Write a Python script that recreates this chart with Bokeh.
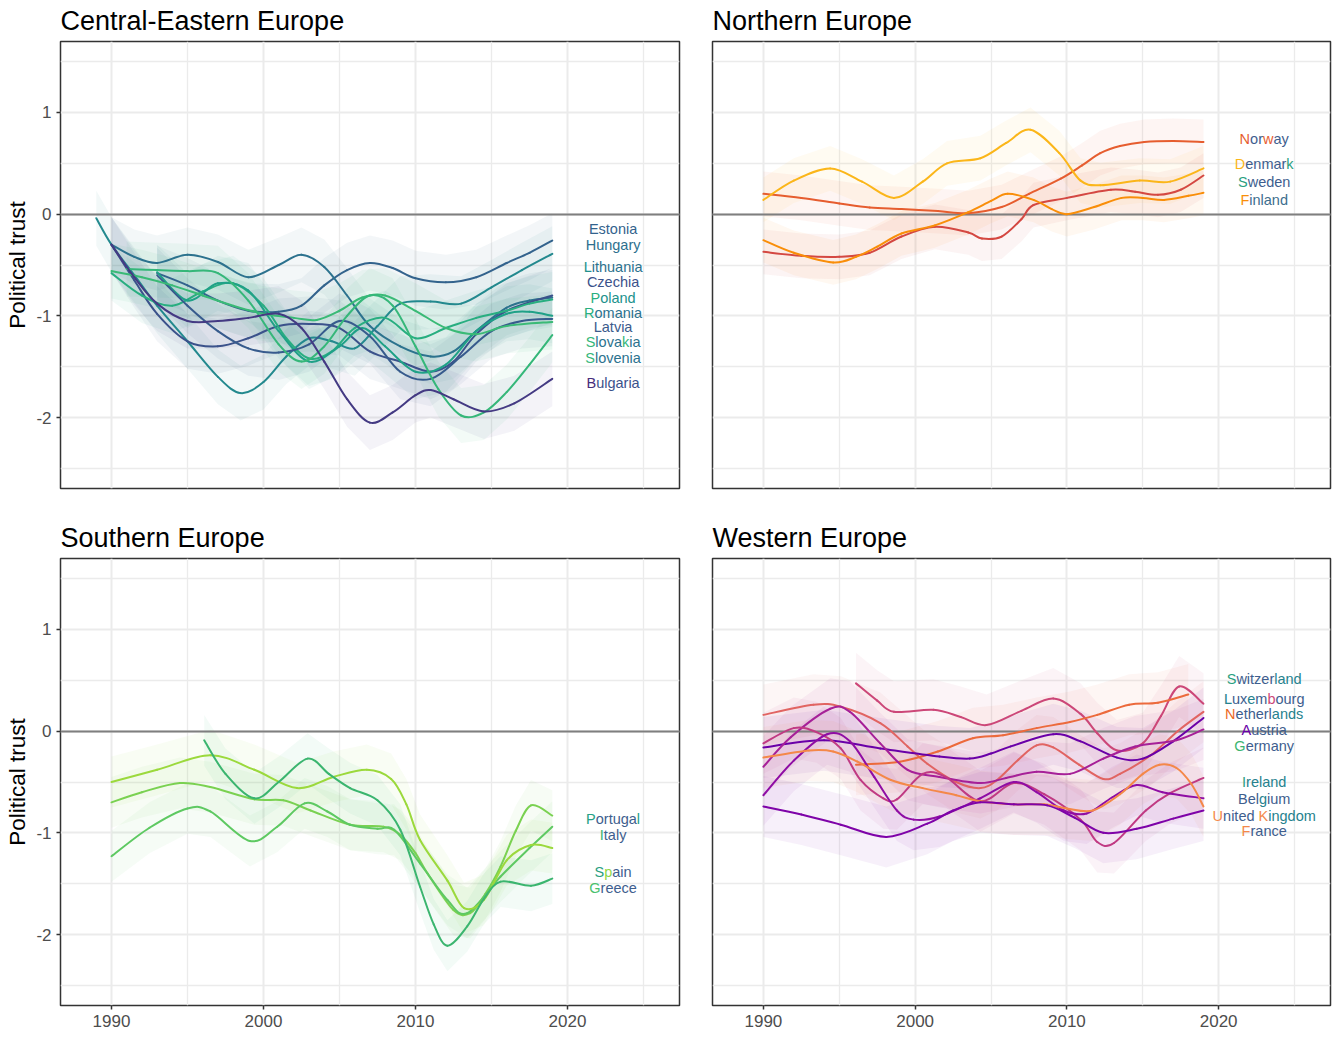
import numpy as np
from bokeh.plotting import figure
from bokeh.layouts import row, column
from bokeh.models import FixedTicker, ColumnDataSource
from bokeh.core.properties import value
from bokeh.embed import file_html
from bokeh.resources import INLINE

# ---------------- data ----------------
YEAR_TICKS = [1990, 2000, 2010, 2020]
YEAR_MINOR = [1995, 2005, 2015, 2025]
TRUST_TICKS = [-2, -1, 0, 1]
TRUST_MINOR = [-2.5, -1.5, -0.5, 0.5, 1.5]
TRUST_LABELS = ["-2", "-1", "0", "1"]

# Central-Eastern Europe
EST_YR = [1993, 1995, 1997, 1999, 2001, 2002.5, 2004, 2005.5, 2007, 2008.5, 2010, 2012, 2014, 2016, 2017.5, 2019]
EST_V = [-0.58, -0.70, -0.85, -0.95, -0.96, -0.90, -0.70, -0.55, -0.48, -0.53, -0.63, -0.67, -0.62, -0.48, -0.38, -0.26]
HUN_YR = [1989, 1990, 1991.5, 1993, 1995, 1997, 1998.5, 2000, 2001.5, 2003, 2004.5, 2006, 2007.5, 2009, 2011, 2013, 2015, 2017, 2019]
HUN_V = [-0.04, -0.30, -0.60, -0.90, -1.25, -1.60, -1.76, -1.65, -1.40, -1.22, -1.25, -1.32, -1.10, -0.88, -0.86, -0.88, -0.72, -0.55, -0.39]
LTU_YR = [1990, 1991.5, 1993, 1995, 1997, 1999, 2001, 2002.5, 2004, 2005.5, 2007, 2009, 2011, 2012.5, 2014, 2016, 2017.5, 2019]
LTU_V = [-0.30, -0.42, -0.48, -0.40, -0.47, -0.62, -0.50, -0.40, -0.52, -0.80, -1.10, -1.30, -1.40, -1.35, -1.15, -0.92, -0.85, -0.82]
CZE_YR = [1990, 1991.5, 1993, 1995, 1997, 1999, 2001, 2003, 2005, 2007, 2009, 2011, 2012.5, 2014, 2016, 2019]
CZE_V = [-0.30, -0.65, -0.98, -1.25, -1.30, -1.22, -1.10, -1.08, -1.12, -1.35, -1.45, -1.55, -1.45, -1.18, -0.95, -0.80]
POL_YR = [1990, 1992, 1994, 1996, 1998, 2000, 2001.5, 2003, 2004.5, 2006, 2008, 2010, 2012, 2014, 2016, 2017.5, 2019]
POL_V = [-0.58, -0.80, -0.90, -0.76, -0.68, -0.90, -1.22, -1.42, -1.35, -1.12, -1.02, -1.22, -1.12, -1.02, -0.95, -0.88, -0.84]
ROU_YR = [1993, 1995, 1997, 1999, 2001, 2003, 2005, 2006.5, 2008, 2010, 2012, 2014, 2016, 2017.5, 2019]
ROU_V = [-0.57, -0.85, -0.68, -0.75, -1.15, -1.45, -1.30, -1.12, -1.30, -1.55, -1.48, -1.15, -0.98, -0.96, -1.00]
LVA_YR = [1993, 1995, 1997, 1999, 2001, 2003, 2005, 2007, 2009, 2011, 2013, 2015, 2017, 2019]
LVA_V = [-0.60, -0.90, -1.15, -1.32, -1.36, -1.28, -1.05, -1.20, -1.55, -1.62, -1.40, -1.15, -1.05, -1.03]
SVK_YR = [1990, 1992, 1994, 1996, 1998, 2000, 2002, 2003.5, 2005, 2006.5, 2008, 2010, 2012, 2014, 2016, 2019]
SVK_V = [-0.56, -0.62, -0.70, -0.80, -0.90, -0.98, -1.02, -1.04, -0.95, -0.82, -0.80, -0.95, -1.12, -1.18, -1.10, -1.06]
SVN_YR = [1991, 1993, 1995, 1997, 1999, 2001, 2002.5, 2004, 2005.5, 2007, 2008.5, 2010, 2011.5, 2013, 2014.5, 2016, 2017.5, 2019]
SVN_V = [-0.54, -0.55, -0.56, -0.58, -0.85, -1.28, -1.45, -1.30, -1.00, -0.80, -0.90, -1.30, -1.72, -1.98, -1.95, -1.75, -1.48, -1.19]
BGR_YR = [1990, 1991.5, 1993, 1995, 1997, 1999, 2001, 2002.5, 2004, 2005.5, 2007, 2008.5, 2010, 2011, 2012.5, 2014.5, 2016.5, 2019]
BGR_V = [-0.30, -0.62, -0.88, -1.05, -1.05, -1.02, -0.98, -1.12, -1.45, -1.82, -2.05, -1.95, -1.78, -1.73, -1.82, -1.94, -1.86, -1.62]

# Northern Europe
NOR_YR = [1990, 1992.5, 1995, 1997, 1999.1, 2001.5, 2003.5, 2005.7, 2007.5, 2009.6, 2011, 2012.2, 2013.5, 2015.1, 2017, 2019]
NOR_V = [0.20, 0.16, 0.105, 0.065, 0.05, 0.03, 0.01, 0.07, 0.20, 0.35, 0.48, 0.60, 0.67, 0.71, 0.72, 0.71]
DNK_YR = [1990, 1992, 1994.4, 1996.5, 1998.6, 2000.5, 2002.1, 2004.3, 2006, 2007.6, 2009.5, 2010.9, 2012.2, 2014.8, 2016.8, 2019]
DNK_V = [0.14, 0.33, 0.45, 0.32, 0.16, 0.32, 0.50, 0.55, 0.70, 0.83, 0.60, 0.33, 0.285, 0.33, 0.32, 0.45]
SWE_YR = [1990, 1992.5, 1995, 1997, 1999.1, 2001.3, 2003.5, 2004.4, 2005.7, 2007, 2007.8, 2010, 2012.9, 2014.5, 2016, 2017.5, 2019]
SWE_V = [-0.37, -0.41, -0.42, -0.38, -0.22, -0.125, -0.18, -0.24, -0.22, -0.05, 0.09, 0.16, 0.24, 0.22, 0.19, 0.24, 0.38]
FIN_YR = [1990, 1992, 1994.6, 1996.1, 1997.5, 1999.1, 2001.3, 2003.5, 2005, 2006.1, 2007.8, 2009, 2010, 2011.8, 2013.6, 2015, 2016.4, 2018, 2019]
FIN_V = [-0.256, -0.38, -0.475, -0.42, -0.32, -0.19, -0.11, 0.02, 0.13, 0.20, 0.14, 0.05, 0.0, 0.07, 0.16, 0.16, 0.14, 0.18, 0.21]

# Southern Europe
PRT_YR = [1990, 1992, 1994.5, 1996.5, 1999.4, 2001.3, 2003.1, 2005.7, 2007.9, 2009, 2010, 2010.8, 2012.5, 2013.6, 2014.6, 2015.6, 2016.6, 2017.6, 2019]
PRT_V = [-0.70, -0.60, -0.51, -0.55, -0.67, -0.68, -0.78, -0.92, -0.94, -1.02, -1.20, -1.40, -1.76, -1.79, -1.60, -1.33, -0.98, -0.73, -0.83]
ITA_YR = [1990, 1992.5, 1995, 1996.5, 1999.1, 2000.9, 2002.7, 2004.2, 2005.7, 2007.5, 2008.6, 2010.3, 2012.1, 2013.4, 2015.6, 2017.5, 2019]
ITA_V = [-1.23, -0.95, -0.76, -0.79, -1.08, -0.94, -0.71, -0.79, -0.92, -0.96, -0.97, -1.30, -1.66, -1.79, -1.43, -1.15, -0.94]
ESP_YR = [1990, 1993, 1996.5, 1999.4, 2002.2, 2004.6, 2006.8, 2008.4, 2009.4, 2010.3, 2012.1, 2013.2, 2014.5, 2016.0, 2017.6, 2019]
ESP_V = [-0.50, -0.38, -0.236, -0.38, -0.56, -0.45, -0.38, -0.47, -0.72, -1.07, -1.47, -1.74, -1.66, -1.27, -1.12, -1.15]
GRC_YR = [1996.1, 1997.5, 1999.4, 2001, 2002.9, 2004.3, 2005.7, 2007.5, 2009.0, 2010.3, 2011.2, 2012.1, 2013.4, 2014.5, 2015.6, 2017.6, 2019]
GRC_V = [-0.09, -0.42, -0.66, -0.50, -0.27, -0.42, -0.56, -0.68, -0.97, -1.53, -1.90, -2.11, -1.92, -1.65, -1.48, -1.52, -1.45]

# Western Europe
CHE_YR = [1996.1, 1997.5, 1998.6, 2001.2, 2003, 2004.7, 2007, 2009.1, 2010.9, 2012, 2013.3, 2015.0, 2016.2, 2017.4, 2019]
CHE_V = [0.47, 0.30, 0.19, 0.21, 0.14, 0.06, 0.20, 0.32, 0.17, -0.02, -0.19, -0.12, 0.15, 0.44, 0.27]
LUX_YR = [1990, 1993.3, 1995.1, 1997.7, 1999.5, 2000.8, 2002.7, 2004.3, 2005.4, 2006.8, 2008, 2009.1, 2010.8, 2012.4, 2013.5, 2015.5, 2017.3, 2019]
LUX_V = [0.16, 0.26, 0.24, 0.08, -0.15, -0.32, -0.50, -0.56, -0.48, -0.28, -0.14, -0.16, -0.33, -0.47, -0.42, -0.24, 0.0, 0.19]
NLD_YR = [1996.1, 1999, 2001.5, 2003.8, 2005.8, 2008, 2010.2, 2012, 2014.1, 2016, 2018]
NLD_V = [-0.33, -0.30, -0.20, -0.07, -0.04, 0.03, 0.09, 0.16, 0.26, 0.28, 0.36]
AUT_YR = [1990, 1994, 1997.7, 2001.6, 2003.6, 2005, 2006.3, 2009.1, 2010.9, 2013.3, 2015, 2017, 2019]
AUT_V = [-0.16, -0.09, -0.17, -0.25, -0.27, -0.22, -0.15, -0.03, -0.10, -0.26, -0.27, -0.10, 0.13]
DEU_YR = [1990, 1991.8, 1994.4, 1995.7, 1997.7, 1999.5, 2001.6, 2004.3, 2006, 2008, 2010.2, 2012.4, 2014.5, 2017.2, 2019]
DEU_V = [-0.35, -0.06, 0.22, 0.19, -0.12, -0.38, -0.45, -0.51, -0.46, -0.40, -0.42, -0.27, -0.15, -0.09, 0.017]
IRL_YR = [1990, 1992, 1993.5, 1995.1, 1996.4, 1997.9, 1998.8, 2000.5, 2002, 2004.3, 2006.5, 2008.5, 2010.9, 2012, 2013.1, 2015.2, 2016.8, 2019]
IRL_V = [-0.12, 0.03, -0.01, -0.17, -0.48, -0.66, -0.67, -0.42, -0.45, -0.69, -0.51, -0.62, -0.87, -1.09, -1.10, -0.78, -0.61, -0.46]
BEL_YR = [1990, 1992, 1994.2, 1995.7, 1997.3, 1998.8, 1999.9, 2001.6, 2004.3, 2006.5, 2008, 2009.8, 2011.3, 2013, 2014.6, 2016.3, 2019]
BEL_V = [-0.63, -0.29, -0.03, -0.10, -0.45, -0.78, -0.87, -0.84, -0.66, -0.50, -0.60, -0.78, -0.81, -0.65, -0.53, -0.60, -0.66]
GBR_YR = [1990, 1993, 1994.6, 1996.2, 1998.4, 2000.5, 2002.7, 2004.3, 2006.5, 2008.5, 2010, 2011.7, 2013.5, 2015, 2016.1, 2017.2, 2018.2, 2019]
GBR_V = [-0.26, -0.19, -0.20, -0.30, -0.48, -0.56, -0.63, -0.69, -0.72, -0.72, -0.76, -0.78, -0.62, -0.42, -0.33, -0.36, -0.52, -0.74]
FRA_YR = [1990, 1992.5, 1995.1, 1998.1, 2000.8, 2002.5, 2004.3, 2006.5, 2008.7, 2010.5, 2012.4, 2014.6, 2017, 2019]
FRA_V = [-0.74, -0.82, -0.92, -1.04, -0.91, -0.78, -0.70, -0.72, -0.73, -0.85, -1.00, -0.96, -0.86, -0.78]

# ---------------- styling ----------------
BASE = "#3e5e8e"
TEAL = "#26828e"
FONT = "Liberation Sans"

panels = [
    dict(title="Central-Eastern Europe", hw=0.27,
         series=[(EST_YR, EST_V, "#33638d"), (HUN_YR, HUN_V, "#23898e"), (LTU_YR, LTU_V, "#2c728e"),
                 (CZE_YR, CZE_V, "#3b528b"), (POL_YR, POL_V, "#28ae80"), (ROU_YR, ROU_V, "#1fa187"),
                 (LVA_YR, LVA_V, "#375b8d"), (SVK_YR, SVK_V, "#3aba76"), (SVN_YR, SVN_V, "#35b779"),
                 (BGR_YR, BGR_V, "#443a83")],
         labels=[[("Estonia", "#33638d")], [("Hungary", "#2d708e")], [("L", "#21918c"), ("ithuania", "#2c728e")],
                 [("Czechia", "#3b528b")], [("P", "#29af7f"), ("oland", "#21918c")], [("R", "#29af7f"), ("omania", "#2c728e")],
                 [("Latvia", "#3b5b8c")], [("S", "#35b779"), ("lova", "#2c728e"), ("k", "#35b779"), ("ia", "#2c728e")],
                 [("S", "#35b779"), ("lovenia", "#2c728e")], [("B", "#472d7b"), ("ulgaria", "#3b528b")]],
         label_y=[-0.15, -0.30, -0.52, -0.67, -0.82, -0.97, -1.11, -1.26, -1.41, -1.66]),
    dict(title="Northern Europe", hw=0.22,
         series=[(NOR_YR, NOR_V, "#e65d2f"), (DNK_YR, DNK_V, "#fbb61a"), (SWE_YR, SWE_V, "#d44842"),
                 (FIN_YR, FIN_V, "#f98e09")],
         labels=[[("N", "#e65d2f"), ("or", BASE), ("w", "#e65d2f"), ("ay", BASE)],
                 [("D", "#fbb61a"), ("enmar", BASE), ("k", "#2aa07f")],
                 [("S", "#2aa07f"), ("weden", BASE)], [("F", "#f98e09"), ("inland", "#3e6e8e")]],
         label_y=[0.74, 0.49, 0.32, 0.14]),
    dict(title="Southern Europe", hw=0.25,
         series=[(PRT_YR, PRT_V, "#7ad151"), (ITA_YR, ITA_V, "#5ec962"), (ESP_YR, ESP_V, "#9bd93c"),
                 (GRC_YR, GRC_V, "#3bb56f")],
         labels=[[("P", "#26a186"), ("ortuga", BASE), ("l", "#26a186")], [("I", "#3bb56f"), ("taly", BASE)],
                 [("S", "#2aa07f"), ("p", "#8fd744"), ("ain", BASE)], [("G", "#4ac16d"), ("reece", BASE)]],
         label_y=[-0.865, -1.02, -1.39, -1.54]),
    dict(title="Western Europe", hw=0.3,
         series=[(CHE_YR, CHE_V, "#cc4778"), (LUX_YR, LUX_V, "#e16462"), (NLD_YR, NLD_V, "#ec6a3c"),
                 (AUT_YR, AUT_V, "#6a00a8"), (DEU_YR, DEU_V, "#a62098"), (IRL_YR, IRL_V, "#c03a83"),
                 (BEL_YR, BEL_V, "#8f0da4"), (GBR_YR, GBR_V, "#f48849"), (FRA_YR, FRA_V, "#7e03a8")],
         labels=[[("S", "#2aa07f"), ("witzer", BASE), ("land", TEAL)],
                 [("L", TEAL), ("ux", BASE), ("e", TEAL), ("m", BASE), ("b", "#cc4778"), ("ourg", BASE)],
                 [("N", "#ed6925"), ("etherl", BASE), ("ands", TEAL)], [("A", "#6a00a8"), ("ustria", BASE)],
                 [("G", "#3bb56f"), ("ermany", BASE)], [("I", "#2aa07f"), ("reland", TEAL)],
                 [("Bel", BASE), ("g", TEAL), ("ium", BASE)],
                 [("U", "#f48849"), ("nited ", BASE), ("K", "#f48849"), ("ingdom", TEAL)],
                 [("F", "#f48849"), ("rance", BASE)]],
         label_y=[0.51, 0.32, 0.17, 0.01, -0.15, -0.50, -0.67, -0.83, -0.98]),
]

CW = {'A': 667, 'B': 667, 'C': 722, 'D': 722, 'E': 667, 'F': 611, 'G': 778, 'H': 722, 'I': 278, 'K': 667,
      'L': 556, 'N': 722, 'P': 667, 'R': 722, 'S': 667, 'U': 722, ' ': 278, 'a': 556, 'b': 556, 'c': 500,
      'd': 556, 'e': 556, 'f': 278, 'g': 556, 'h': 556, 'i': 222, 'k': 500, 'l': 222, 'm': 833, 'n': 556,
      'o': 556, 'p': 556, 'r': 333, 's': 500, 't': 278, 'u': 556, 'v': 500, 'w': 722, 'x': 500, 'y': 500, 'z': 500}
LABEL_FS = 14.5
LABEL_X = 2023


def text_w(s):
    return sum(CW.get(c, 556) for c in s) * LABEL_FS / 1000.0


def smooth_segments(xs, ys):
    """Catmull-Rom style cubic segments through the read points (drawing only)."""
    n = len(xs)
    out = {k: [] for k in ("x0", "y0", "x1", "y1", "cx0", "cy0", "cx1", "cy1")}
    for i in range(n - 1):
        a = max(i - 1, 0)
        d = min(i + 2, n - 1)
        out["x0"].append(xs[i]); out["y0"].append(ys[i])
        out["x1"].append(xs[i + 1]); out["y1"].append(ys[i + 1])
        out["cx0"].append(xs[i] + (xs[i + 1] - xs[a]) / 6.0)
        out["cy0"].append(ys[i] + (ys[i + 1] - ys[a]) / 6.0)
        out["cx1"].append(xs[i + 1] - (xs[d] - xs[i]) / 6.0)
        out["cy1"].append(ys[i + 1] - (ys[d] - ys[i]) / 6.0)
    return out


XR = (1986.645, 2027.37)
YR = (-2.698, 1.698)


def make_fig(cfg, width, height, left, right, top, bottom, show_x, show_y):
    p = figure(width=width, height=height, x_range=XR, y_range=YR, output_backend="svg",
               toolbar_location=None, min_border_left=left, min_border_right=right,
               min_border_top=top, min_border_bottom=bottom, title=cfg["title"])
    p.background_fill_color = "white"
    p.border_fill_color = "white"
    p.outline_line_color = "#333333"
    p.outline_line_width = 1.5
    p.title.text_font = FONT
    p.title.text_font_size = "27px"
    p.title.text_font_style = "normal"
    p.title.text_color = "#000000"
    p.title.align = "left"
    p.title.offset = 0
    p.title.vertical_align = "top"
    p.title.standoff = 8

    xt = FixedTicker(ticks=YEAR_TICKS, minor_ticks=YEAR_MINOR)
    yt = FixedTicker(ticks=TRUST_TICKS, minor_ticks=TRUST_MINOR)
    p.xaxis.ticker = xt
    p.yaxis.ticker = yt
    p.xgrid.ticker = xt
    p.ygrid.ticker = yt
    for g in (p.xgrid, p.ygrid):
        g.grid_line_color = "#ebebeb"
        g.grid_line_width = 2
        g.minor_grid_line_color = "#ebebeb"
        g.minor_grid_line_width = 1.3
    for ax in (p.xaxis, p.yaxis):
        ax.axis_line_color = None
        ax.major_tick_line_color = "#333333"
        ax.major_tick_line_width = 1.5
        ax.major_tick_out = 4
        ax.major_tick_in = 0
        ax.minor_tick_out = 0
        ax.minor_tick_in = 0
        ax.major_label_text_font = FONT
        ax.major_label_text_font_size = "17px"
        ax.major_label_text_color = "#4d4d4d"
    p.xaxis.major_label_standoff = 5
    p.yaxis.major_label_standoff = 5
    p.yaxis.major_label_overrides = {t: s for t, s in zip(TRUST_TICKS, TRUST_LABELS)}
    p.xaxis.visible = show_x
    p.yaxis.visible = show_y
    if show_y:
        p.yaxis.axis_label = "Political trust"
        p.yaxis.axis_label_text_font = FONT
        p.yaxis.axis_label_text_font_size = "22.5px"
        p.yaxis.axis_label_text_font_style = "normal"
        p.yaxis.axis_label_text_color = "#000000"
        p.yaxis.axis_label_standoff = 3

    hw = cfg["hw"]
    for yrs, vals, col in cfg["series"]:
        v = np.array(vals)
        p.varea(x=yrs, y1=v - hw, y2=v + hw, fill_color=col, fill_alpha=0.06)
    p.hspan(y=[0], line_color="#7f7f7f", line_width=2)
    for yrs, vals, col in cfg["series"]:
        seg = ColumnDataSource(smooth_segments(list(yrs), list(vals)))
        p.bezier(x0="x0", y0="y0", x1="x1", y1="y1", cx0="cx0", cy0="cy0", cx1="cx1", cy1="cy1",
                 source=seg, line_color=col, line_width=2, line_cap="round")

    xs, ys, ts, xo, cs = [], [], [], [], []
    for segs, ly in zip(cfg["labels"], cfg["label_y"]):
        full = "".join(s for s, _ in segs)
        off = -text_w(full) / 2.0
        for s, c in segs:
            xs.append(LABEL_X)
            ys.append(ly)
            ts.append(s.strip())
            xo.append(off)
            cs.append(c)
            off += text_w(s)
    src = ColumnDataSource(dict(x=xs, y=ys, text=ts, xo=xo, c=cs))
    p.text(x="x", y="y", text="text", x_offset="xo", text_color="c", source=src,
           text_align="left", text_baseline="middle", text_font=value(FONT),
           text_font_size=f"{LABEL_FS}px")
    return p


p1 = make_fig(panels[0], 689, 517, 60, 10, 41, 29, False, True)
p2 = make_fig(panels[1], 647, 517, 23, 6, 41, 29, False, False)
p3 = make_fig(panels[2], 689, 521, 60, 10, 41, 33, True, True)
p4 = make_fig(panels[3], 647, 521, 23, 6, 41, 33, True, False)

layout = column(row(p1, p2), row(p3, p4))
open("out.html", "w").write(file_html(layout, INLINE))
